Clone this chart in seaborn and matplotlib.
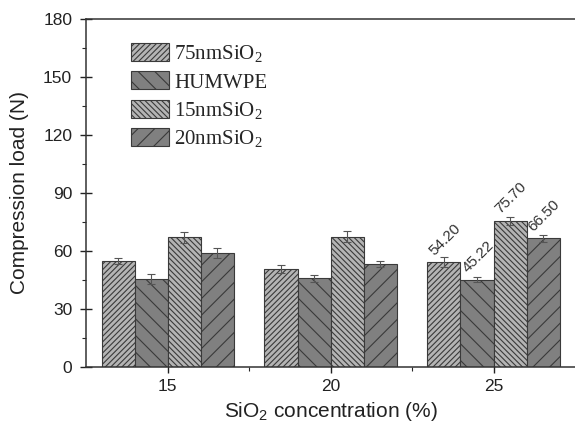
import pandas as pd
import matplotlib.pyplot as plt
import seaborn as sns
from matplotlib.ticker import MultipleLocator, AutoMinorLocator

concentrations = ["15", "20", "25"]
samples = ["75nmSiO2", "HUMWPE", "15nmSiO2", "20nmSiO2"]
legend_labels = [r"75nmSiO$\mathregular{_2}$", "HUMWPE",
                 r"15nmSiO$\mathregular{_2}$", r"20nmSiO$\mathregular{_2}$"]

load_75nm = [55.0, 50.7, 54.20]
load_humwpe = [45.4, 45.9, 45.22]
load_15nm = [67.0, 67.4, 75.70]
load_20nm = [58.8, 53.3, 66.50]

err_75nm = [1.5, 2.0, 2.5]
err_humwpe = [2.5, 1.8, 1.5]
err_15nm = [3.0, 3.0, 2.0]
err_20nm = [2.5, 1.5, 2.0]

labels_25 = ["54.20", "45.22", "75.70", "66.50"]

df = pd.DataFrame({
    "conc": concentrations * 4,
    "sample": [s for s in samples for _ in concentrations],
    "load": load_75nm + load_humwpe + load_15nm + load_20nm,
    "err": err_75nm + err_humwpe + err_15nm + err_20nm,
})

sns.set_style("ticks")
plt.rcParams["font.family"] = ["Liberation Sans", "DejaVu Sans"]
plt.rcParams["hatch.linewidth"] = 0.8

fig = plt.figure(figsize=(5.75, 4.25), dpi=100)
ax = fig.add_axes([0.1496, 0.1365, 0.8504, 0.8188])

colors = ["#b4b4b4", "#808080", "#b4b4b4", "#808080"]
hatches = ["//////", "\\\\", "\\\\\\\\\\\\", "//"]

sns.barplot(data=df, x="conc", y="load", hue="sample", hue_order=samples,
            palette=colors, width=0.81, errorbar=None, ax=ax,
            edgecolor="#333333", linewidth=0.8, legend=False)

for cont, h, s in zip(ax.containers, hatches, samples):
    errs = df[df["sample"] == s]["err"].tolist()
    for bar, e in zip(cont, errs):
        bar.set_hatch(h)
        bar.set_edgecolor("#3a3a3a")
        cx = bar.get_x() + bar.get_width() / 2
        ax.errorbar(cx, bar.get_height(), yerr=e, color="#555555",
                    capsize=3, elinewidth=0.8, capthick=0.8)

# values on the 25% group
for cont, lab in zip(ax.containers, labels_25):
    bar = cont[2]
    ax.annotate(lab, xy=(bar.get_x(), bar.get_height()),
                xytext=(6.5, 3), textcoords="offset points",
                rotation=45, rotation_mode="anchor",
                ha="left", va="bottom", fontsize=11, color="#333333")

ax.set_xlim(-0.5, 2.5)
ax.set_ylim(0, 180)
ax.yaxis.set_major_locator(MultipleLocator(30))
ax.yaxis.set_minor_locator(AutoMinorLocator(2))
ax.set_xticks([0.5, 1.5], minor=True)
ax.tick_params(axis="both", which="major", direction="inout", length=8,
               width=1, labelsize=12.5, colors="#222222")
ax.tick_params(axis="x", which="major", pad=5)
ax.tick_params(axis="y", which="major", pad=6)
ax.tick_params(axis="both", which="minor", direction="out", length=3, width=0.8)
ax.set_ylabel("Compression load (N)", fontsize=15, color="#222222", labelpad=10)
ax.set_xlabel(r"SiO$\mathregular{_2}$ concentration (%)", fontsize=15,
              color="#222222", labelpad=4)
for side in ["left", "bottom", "top"]:
    ax.spines[side].set_visible(True)
    ax.spines[side].set_linewidth(1.1)
    ax.spines[side].set_color("#333333")
ax.spines["right"].set_visible(False)

handles = list(ax.containers[i][0] for i in range(4))
leg = ax.legend(handles, legend_labels, loc="upper left",
                bbox_to_anchor=(0.053, 0.985), frameon=False,
                prop={"family": ["Liberation Serif"], "size": 15},
                handlelength=1.85, handleheight=0.95, labelspacing=0.35,
                handletextpad=0.25)

fig.savefig("out.png", dpi=100)
